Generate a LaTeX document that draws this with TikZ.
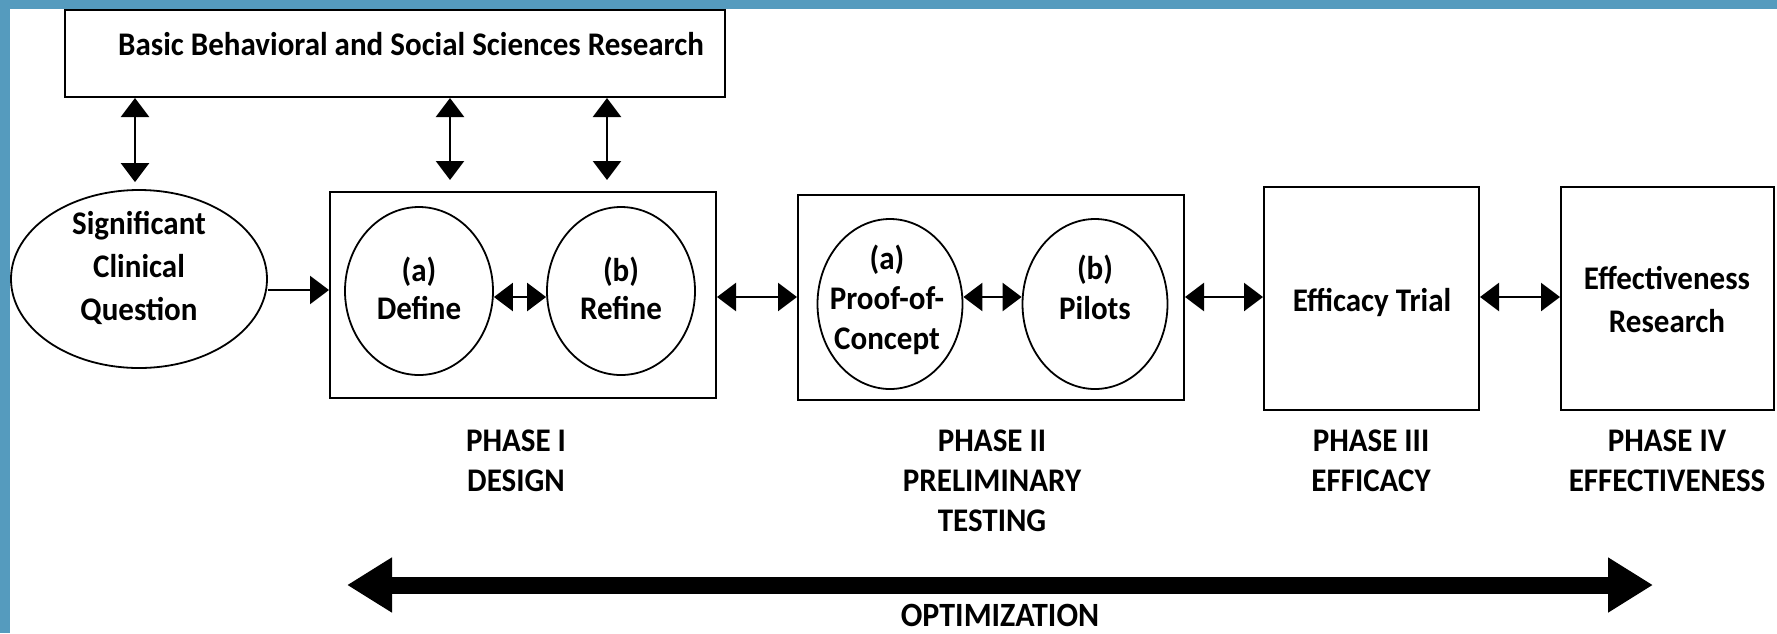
\documentclass[tikz,border=0pt]{standalone}
\usepackage{fontspec}
\setmainfont{Carlito}[FakeStretch=0.94]
\usetikzlibrary{arrows.meta,shapes.geometric}
\definecolor{frame}{RGB}{85,155,190}
\begin{document}
\begin{tikzpicture}[x=1pt,y=-1pt,
  box/.style={draw,line width=2pt,rectangle,inner sep=0pt},
  oval/.style={draw,line width=1.8pt,ellipse,inner sep=0pt},
  txt/.style={font=\fontsize{33}{40}\selectfont\bfseries,align=center,inner sep=0pt},
  tipA/.tip={Triangle[width=28pt,length=19pt]},
  dbl/.style={{tipA}-{tipA},line width=2.5pt},
  one/.style={-{tipA},line width=2.5pt},
  big/.style={{Triangle[width=52pt,length=45pt]}-{Triangle[width=52pt,length=45pt]},line width=17pt}]
\useasboundingbox (0,0) rectangle (1777,633);
\fill[white] (0,0) rectangle (1777,633);
\fill[frame] (0,0) rectangle (1777,9);
\fill[frame] (0,0) rectangle (10,633);

% shapes
\node[box,minimum width=660pt,minimum height=87pt] (top) at (395,53.5) {};
\node[oval,minimum width=256pt,minimum height=178pt] (ell) at (139,279) {};
\node[box,minimum width=386pt,minimum height=206pt] (p1) at (523,295) {};
\node[oval,minimum width=148pt,minimum height=168pt] (define) at (419,291) {};
\node[oval,minimum width=148pt,minimum height=168pt] (refine) at (621,291) {};
\node[box,minimum width=386pt,minimum height=205pt] (p2) at (991,297.5) {};
\node[oval,minimum width=145pt,minimum height=170pt] (proof) at (890,304) {};
\node[oval,minimum width=145pt,minimum height=170pt] (pilots) at (1095,304) {};
\node[box,minimum width=215pt,minimum height=223pt] (p3) at (1371.5,298.5) {};
\node[box,minimum width=213pt,minimum height=223pt] (p4) at (1667.5,298.5) {};

% texts
\node[txt] (toptxt) at (411,44) {Basic Behavioral and Social Sciences Research};
\node[txt,font=\fontsize{33}{43}\selectfont\bfseries] (elltxt) at (139,268) {Significant\\Clinical\\Question};
\node[txt,font=\fontsize{33}{38}\selectfont\bfseries] (deftxt) at (419,288) {(a)\\Define};
\node[txt,font=\fontsize{33}{38}\selectfont\bfseries] (reftxt) at (621,288) {(b)\\Refine};
\node[txt] (prooftxt) at (887,300) {(a)\\Proof-of-\\Concept};
\node[txt] (pilotstxt) at (1095,287) {(b)\\Pilots};
\node[txt] (p3txt) at (1372,302) {Efficacy Trial};
\node[txt,font=\fontsize{33}{43}\selectfont\bfseries] (p4txt) at (1667,300) {Effectiveness\\Research};

\node[txt] (ph1) at (516,461) {PHASE I\\DESIGN};
\node[txt] (ph2) at (992,481) {PHASE II\\PRELIMINARY\\TESTING};
\node[txt] (ph3) at (1371,461) {PHASE III\\EFFICACY};
\node[txt] (ph4) at (1667,461) {PHASE IV\\EFFECTIVENESS};

% connectors
\coordinate (va) at (135,0);
\coordinate (vb) at (450,0);
\coordinate (vc) at (607,0);
\draw[dbl,shorten >=7pt] (top.south -| va) -- (ell.north -| va);
\draw[dbl,shorten >=11pt] (top.south -| vb) -- (p1.north -| vb);
\draw[dbl,shorten >=11pt] (top.south -| vc) -- (p1.north -| vc);

\coordinate (hy) at (0,297);
\coordinate (hz) at (0,290);
\draw[one] (ell.east |- hz) -- (p1.west |- hz);
\draw[dbl] (define.east |- hy) -- (refine.west |- hy);
\draw[dbl] (p1.east |- hy) -- (p2.west |- hy);
\draw[dbl] (proof.east |- hy) -- (pilots.west |- hy);
\draw[dbl] (p2.east |- hy) -- (p3.west |- hy);
\draw[dbl] (p3.east |- hy) -- (p4.west |- hy);

\coordinate (optL) at (347,585);
\coordinate (optR) at (1653,585);
\draw[big] (optL) -- (optR);
\node[txt,font=\fontsize{34}{40}\selectfont\bfseries] (opttxt) at (1000,615) {OPTIMIZATION};
\end{tikzpicture}
\end{document}
